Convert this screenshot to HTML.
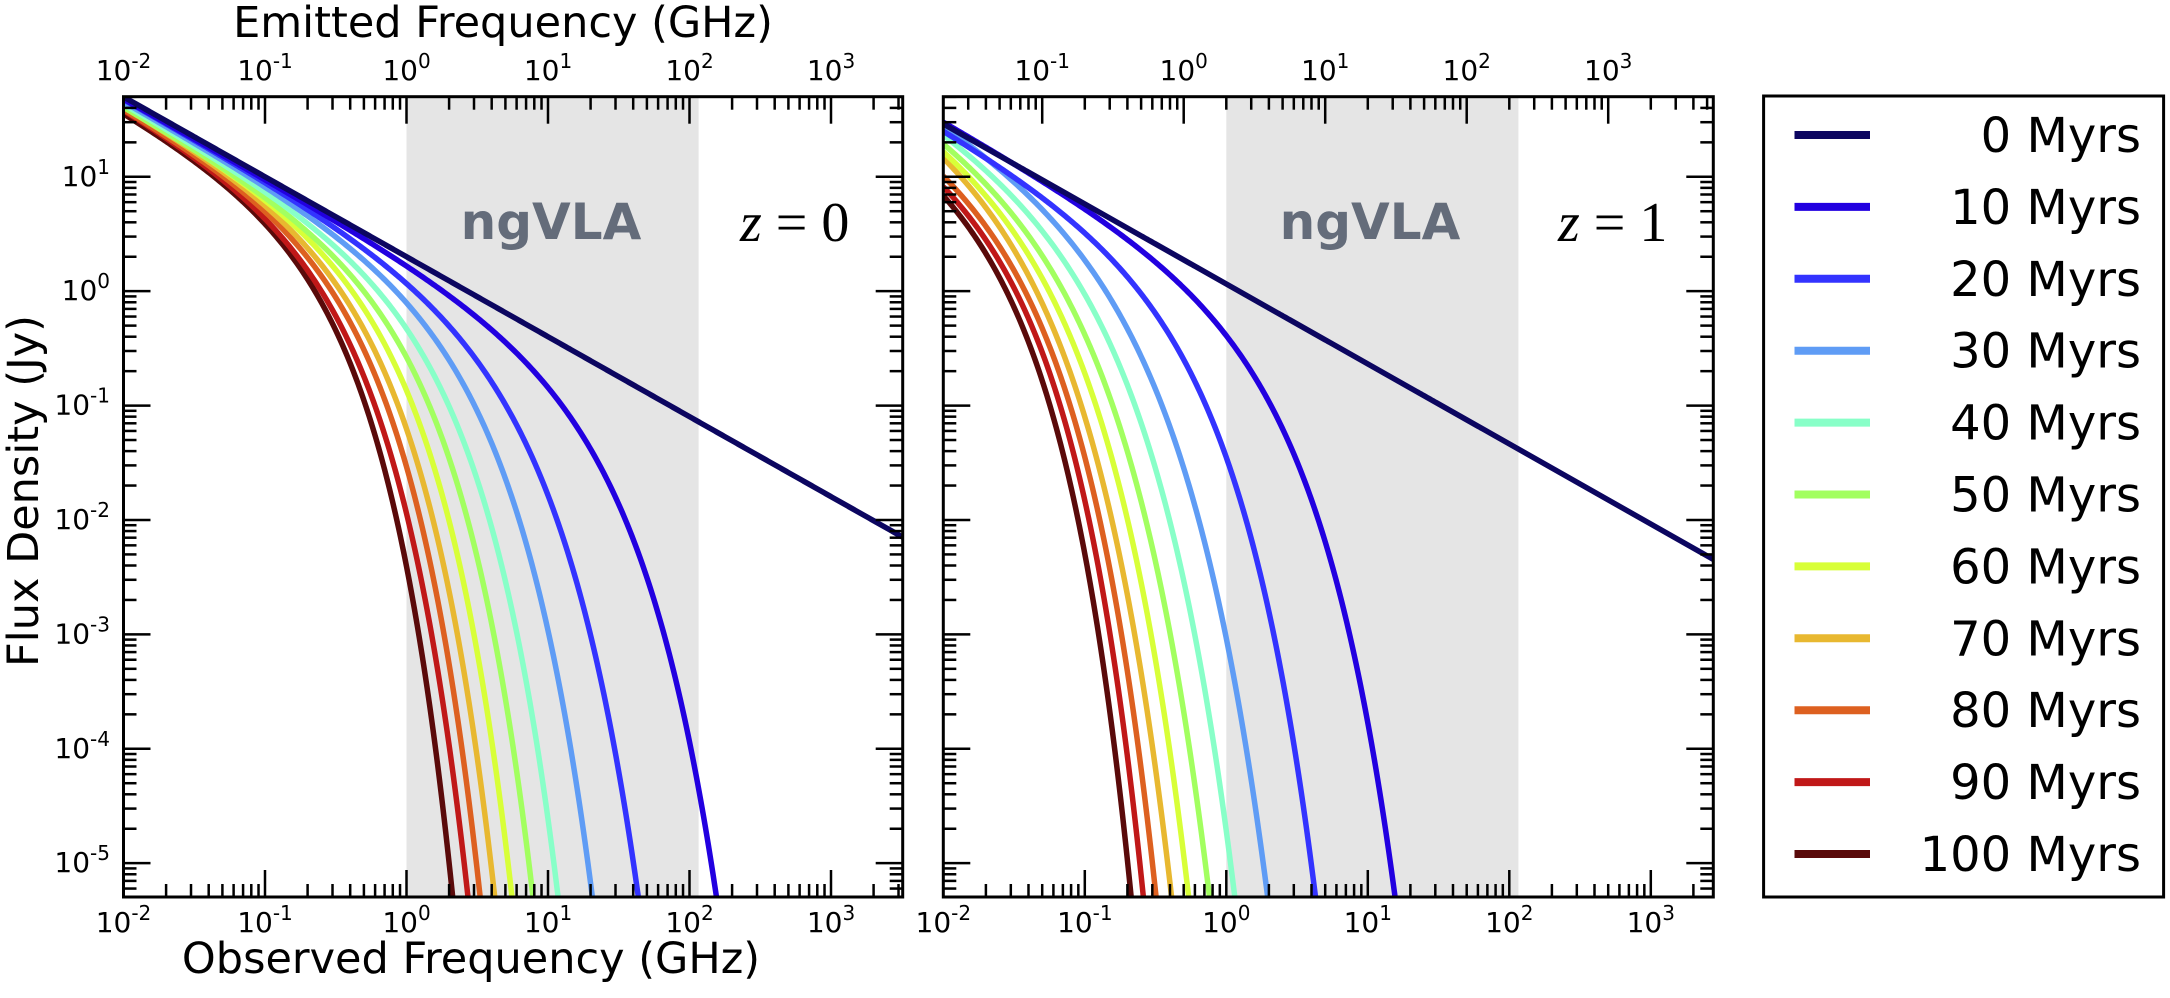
<!DOCTYPE html>
<html>
<head>
<meta charset="utf-8">
<style>
  html,body{margin:0;padding:0;background:#fff;width:2170px;height:998px;overflow:hidden;}
  svg{display:block;overflow:hidden;}
  text{font-family:"DejaVu Sans","Liberation Sans",sans-serif;fill:#000;}
</style>
</head>
<body>
<svg id="chart" width="2170" height="998" viewBox="0 0 2170 998" xmlns="http://www.w3.org/2000/svg">
  <defs>
    <clipPath id="clip0"><rect x="123.5" y="96.7" width="779.2" height="800.3"/></clipPath>
    <clipPath id="clip1"><rect x="943.3" y="96.7" width="770" height="800.3"/></clipPath>
  </defs>
  <text x="503" y="37" font-size="43" text-anchor="middle">Emitted Frequency (GHz)</text>
  <text x="471" y="973" font-size="43" text-anchor="middle">Observed Frequency (GHz)</text>
  <text x="0" y="0" font-size="43" text-anchor="middle" transform="translate(38,491) rotate(-90)">Flux Density (Jy)</text>
  <g id="layer"></g>
</svg>
<script>
// ---- data ----
const ages = [0, 10, 20, 30, 40, 50, 60, 70, 80, 90, 100];
const ageColors = ['#0c0660', '#2200e0', '#3333ff', '#5f9cf5', '#88ffc8', '#a2ff60', '#d8ff38', '#e8b830', '#dd6020', '#c01818', '#5a0a0a'];
// log10 flux at 0.01 GHz (left edge)
const z0StartFlux = [1.70, 1.69, 1.68, 1.675, 1.67, 1.66, 1.65, 1.64, 1.63, 1.62, 1.61];
const z1StartFlux = [1.50, 1.46, 1.41, 1.37, 1.32, 1.27, 1.22, 1.17, 1.11, 1.05, 0.99];
// log10 flux levels and the log10 frequency at which each curve crosses them
const z0Levels = [1, 0, -1, -1.79, -3, -5.29];
const z0Cross = [
  [-1.0, 0.432, 1.862, 2.99, 4.72, 8.0],
  [-1.022, 0.250, 1.04, 1.50, 1.82, 2.191],
  [-1.046, 0.020, 0.69, 1.05, 1.275, 1.639],
  [-1.069, -0.152, 0.455, 0.785, 0.99, 1.316],
  [-1.105, -0.282, 0.268, 0.585, 0.768, 1.070],
  [-1.140, -0.376, 0.118, 0.430, 0.610, 0.890],
  [-1.175, -0.446, 0.002, 0.295, 0.475, 0.743],
  [-1.211, -0.512, -0.100, 0.170, 0.368, 0.620],
  [-1.246, -0.576, -0.178, 0.062, 0.283, 0.518],
  [-1.281, -0.635, -0.258, -0.028, 0.201, 0.426],
  [-1.317, -0.694, -0.325, -0.100, 0.105, 0.321]
];
const z1Levels = [1, 0, -1, -2, -4, -5.29];
const z1Cross = [
  [-1.285, 0.146, 1.577, 2.88, 5.6, 7.4],
  [-1.329, -0.351, 0.332, 0.662, 1.027, 1.197],
  [-1.423, -0.751, -0.080, 0.167, 0.438, 0.643],
  [-1.529, -0.870, -0.433, -0.139, 0.085, 0.309],
  [-1.623, -1.046, -0.633, -0.339, -0.139, 0.073],
  [-1.717, -1.176, -0.800, -0.516, -0.304, -0.111],
  [-1.80, -1.293, -0.920, -0.657, -0.433, -0.257],
  [-1.87, -1.388, -1.030, -0.775, -0.539, -0.379],
  [null, -1.47, -1.120, -0.860, -0.634, -0.497],
  [null, -1.541, -1.205, -0.935, -0.716, -0.587],
  [null, -1.611, -1.280, -1.010, -0.799, -0.674]
];
const ngvlaBand = [1, 116]; // GHz, observed
const redshifts = [0, 1];
const xTickExps = [-2, -1, 0, 1, 2, 3];
const yTickExps = [1, 0, -1, -2, -3, -4, -5];
const injectionSlope = 0.699; // low-frequency spectral slope

// ---- layout ----
const NS = 'http://www.w3.org/2000/svg';
const layer = document.getElementById('layer');
const panels = [
  {x0: 123.5, x1: 902.7, y0: 96.7, y1: 897, clip: 'clip0', start: z0StartFlux, levels: z0Levels, cross: z0Cross, z: 0, showY: true},
  {x0: 943.3, x1: 1713.3, y0: 96.7, y1: 897, clip: 'clip1', start: z1StartFlux, levels: z1Levels, cross: z1Cross, z: 1, showY: false}
];
const decX = 141.5, decY = 114.4, yTopLog = 1.70;

function el(tag, attrs, parent) {
  const e = document.createElementNS(NS, tag);
  for (const k in attrs) e.setAttribute(k, attrs[k]);
  (parent || layer).appendChild(e);
  return e;
}
function sx(p, lx) { return p.x0 + (lx + 2) * decX; }
function sy(p, ly) { return p.y0 + (yTopLog - ly) * decY; }
function maxLX(p) { return -2 + (p.x1 - p.x0) / decX; }

function pow10Label(x, y, exp, anchor, name) {
  const t = el('text', {x: x, y: y, 'font-size': 28, 'text-anchor': anchor});
  
  
  const a = document.createElementNS(NS, 'tspan'); a.textContent = '10'; t.appendChild(a);
  const b = document.createElementNS(NS, 'tspan'); b.setAttribute('font-size', '20'); b.setAttribute('dy', '-12'); b.textContent = String(exp); t.appendChild(b);
  return t;
}

// least-squares fit of a smooth aged-spectrum shape to the read points:
// ly = A - slope*(lx+2) - 10^(beta*(lx - lb))
function fitCurve(xs, ys) {
  let best = null;
  for (let lb = -3; lb <= 12; lb += 0.01) {
    for (let beta = 0.5; beta <= 2.0; beta += 0.02) {
      const f = xs.map(function (x) { return -injectionSlope * (x + 2) - Math.pow(10, beta * (x - lb)); });
      let A = 0;
      for (let k = 0; k < xs.length; k++) A += ys[k] - f[k];
      A /= xs.length;
      let e = 0;
      for (let k = 0; k < xs.length; k++) { const r = ys[k] - A - f[k]; e += r * r; }
      if (!best || e < best.e) best = {e: e, A: A, lb: lb, beta: beta};
    }
  }
  return function (x) { return best.A - injectionSlope * (x + 2) - Math.pow(10, best.beta * (x - best.lb)); };
}

panels.forEach(function (p, pi) {
  const g = el('g', {});
  
  
  const bx0 = sx(p, Math.log10(ngvlaBand[0])), bx1 = sx(p, Math.log10(ngvlaBand[1]));
  const band = el('rect', {x: bx0, y: p.y0, width: bx1 - bx0, height: p.y1 - p.y0, fill: '#e5e5e5'}, g);
  
  
  const bl = el('text', {x: (p.z === 0 ? 551 : 1370), y: 239, 'font-size': 50, 'font-weight': 'bold', 'text-anchor': 'middle'}, g);
  
  
  bl.textContent = 'ngVLA';
  bl.style.fill = '#646c7a';
  const cg = el('g', {'clip-path': 'url(#' + p.clip + ')'}, g);
  const mx = maxLX(p);
  for (let i = ages.length - 1; i >= 0; i--) {
    const xs = [-2], ys = [p.start[i]];
    for (let j = 0; j < p.levels.length; j++) {
      const c = p.cross[i][j];
      if (c === null) continue;
      if (p.levels[j] >= p.start[i]) continue;
      xs.push(c); ys.push(p.levels[j]);
    }
    const f = fitCurve(xs, ys);
    let d = '';
    const N = 500;
    for (let k = 0; k <= N; k++) {
      const x = -2 + (mx + 2.02) * k / N;
      const y = f(x);
      if (y < -5.6) {
        // find crossing of bottom edge region and stop
        d += 'L' + sx(p, x).toFixed(2) + ',' + Math.min(sy(p, y), 905).toFixed(2);
        break;
      }
      d += (k === 0 ? 'M' : 'L') + sx(p, x).toFixed(2) + ',' + sy(p, y).toFixed(2);
    }
    const path = el('path', {d: d, fill: 'none', stroke: ageColors[i], 'stroke-width': 5.5, 'stroke-linejoin': 'round'}, cg);
    
    
  }
  const tg = el('g', {stroke: '#000', 'stroke-width': 2.5}, g);
  
  
  for (let d = -2; d <= 4; d++) {
    for (let m = 1; m <= 9; m++) {
      const lx = d + Math.log10(m);
      if (lx < -2 - 1e-6 || lx > mx + 1e-6) continue;
      const x = sx(p, lx), L = m === 1 ? 27 : 13;
      el('line', {x1: x, y1: p.y1, x2: x, y2: p.y1 - L}, tg);
    }
    for (let m = 1; m <= 9; m++) {
      const lx = d + Math.log10(m) - Math.log10(1 + p.z);
      if (lx < -2 - 1e-6 || lx > mx + 1e-6) continue;
      const x = sx(p, lx), L = m === 1 ? 27 : 13;
      el('line', {x1: x, y1: p.y0, x2: x, y2: p.y0 + L}, tg);
    }
  }
  for (let d = -6; d <= 1; d++) {
    for (let m = 1; m <= 9; m++) {
      const ly = d + Math.log10(m);
      const y = sy(p, ly);
      if (y < p.y0 - 0.5 || y > p.y1 + 0.5) continue;
      const L = m === 1 ? 27 : 13;
      el('line', {x1: p.x0, y1: y, x2: p.x0 + L, y2: y}, tg);
      el('line', {x1: p.x1, y1: y, x2: p.x1 - L, y2: y}, tg);
    }
  }
  const fr = el('rect', {x: p.x0, y: p.y0, width: p.x1 - p.x0, height: p.y1 - p.y0, fill: 'none', stroke: '#000', 'stroke-width': 3}, g);
  
  
  xTickExps.forEach(function (e) {
    if (e <= mx) pow10Label(sx(p, e), 932, e, 'middle', 'x-tick-label');
    const lt = e - Math.log10(1 + p.z);
    if (lt >= -2 - 1e-6 && lt <= mx) pow10Label(sx(p, lt), 80, e, 'middle', 'top-x-tick-label');
  });
  if (p.showY) {
    yTickExps.forEach(function (e) {
      pow10Label(110, sy(p, e) + 9, e, 'end', 'y-tick-label');
    });
  }
  const zt = el('text', {x: (p.z === 0 ? 740 : 1558), y: 241, 'font-size': 56, style: 'font-family:"Liberation Serif","DejaVu Serif",serif'}, g);
  
  
  const zi = document.createElementNS(NS, 'tspan'); zi.setAttribute('font-style', 'italic'); zi.textContent = 'z'; zt.appendChild(zi);
  const zr = document.createElementNS(NS, 'tspan'); zr.textContent = ' = ' + p.z; zt.appendChild(zr);
});

// legend
const lg = el('g', {});


const lbox = el('rect', {x: 1763.6, y: 96, width: 400, height: 801, fill: '#fff', stroke: '#000', 'stroke-width': 3}, lg);


ages.forEach(function (a, i) {
  const y = 135 + i * 71.9;
  const ent = el('g', {}, lg);
  
  
  el('line', {x1: 1794.5, y1: y, x2: 1870, y2: y, stroke: ageColors[i], 'stroke-width': 8}, ent);
  const t = el('text', {x: 2141, y: y + 17, 'font-size': 48, 'text-anchor': 'end'}, ent);
  
  
  t.textContent = a + ' Myrs';
});
</script>
</body>
</html>
